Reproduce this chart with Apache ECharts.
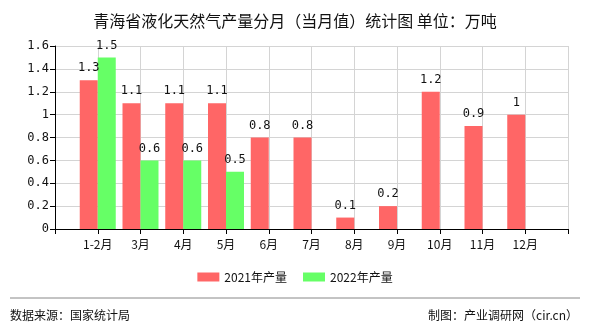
<!DOCTYPE html>
<html>
<head>
<meta charset="utf-8">
<script src="https://cdn.jsdelivr.net/npm/echarts@6/dist/echarts.min.js"></script>
<style>
  html, body { margin: 0; padding: 0; background: #fff; }
  #chart { width: 590px; height: 330px; }
</style>
</head>
<body>
<div id="chart"></div>
<script>
// Monthly LNG output for Qinghai, 10k tonnes
const months = ['1-2月', '3月', '4月', '5月', '6月', '7月', '8月', '9月', '10月', '11月', '12月'];
const output2021 = [1.3, 1.1, 1.1, 1.1, 0.8, 0.8, 0.1, 0.2, 1.2, 0.9, 1];
const output2022 = [1.5, 0.6, 0.6, 0.5, null, null, null, null, null, null, null];
const yTicks = { min: 0, max: 1.6, interval: 0.2 };

// Points on the axis sit on tick lines, with an empty slot at each end
const axisCats = [''].concat(months, ['']);
const pad = arr => [null].concat(arr, [null]);

const numFont = '"DejaVu Sans Mono", "Liberation Mono", monospace';
const cjkFont = '"Noto Sans CJK SC", "Noto Sans", sans-serif';

const chart = echarts.init(document.getElementById('chart'));
chart.setOption({
  animation: false,
  title: {
    text: '青海省液化天然气产量分月（当月值）统计图 单位：万吨',
    left: 'center',
    top: 8,
    textStyle: { fontFamily: cjkFont, fontSize: 16, fontWeight: 'normal', color: '#111' }
  },
  legend: {
    bottom: 42,
    left: 'center',
    itemWidth: 22,
    itemHeight: 9,
    itemGap: 16,
    icon: 'rect',
    textStyle: { fontFamily: cjkFont, fontSize: 12, color: '#111' },
    data: ['2021年产量', '2022年产量']
  },
  grid: { left: 55, right: 22, top: 46, bottom: 101 },
  xAxis: {
    type: 'category',
    data: axisCats,
    boundaryGap: false,
    axisLine: { lineStyle: { color: '#000' } },
    axisTick: { show: true, interval: 0, lineStyle: { color: '#000' } },
    axisLabel: { interval: 0, fontFamily: cjkFont, fontSize: 12, color: '#111', margin: 9 },
    splitLine: { show: true, interval: 0, lineStyle: { color: '#d4d4d4' } }
  },
  yAxis: {
    type: 'value',
    min: yTicks.min,
    max: yTicks.max,
    interval: yTicks.interval,
    axisLine: { show: true, lineStyle: { color: '#000' } },
    axisTick: { show: true, lineStyle: { color: '#000' } },
    axisLabel: { fontFamily: numFont, fontSize: 12, color: '#111', margin: 6 },
    splitLine: { lineStyle: { color: '#d4d4d4' } }
  },
  series: [
    {
      name: '2021年产量',
      type: 'bar',
      data: pad(output2021),
      barWidth: 18,
      barGap: '0%',
      itemStyle: { color: '#ff6666' },
      label: { show: true, position: 'top', distance: 6, fontFamily: numFont, fontSize: 12, color: '#111' }
    },
    {
      name: '2022年产量',
      type: 'bar',
      data: pad(output2022),
      barWidth: 18,
      barGap: '0%',
      itemStyle: { color: '#66ff66' },
      label: { show: true, position: 'top', distance: 6, fontFamily: numFont, fontSize: 12, color: '#111' }
    }
  ],
  graphic: [
    {
      type: 'line',
      shape: { x1: 10, y1: 298, x2: 580, y2: 298 },
      style: { stroke: '#888', lineWidth: 1 }
    },
    {
      type: 'text',
      left: 10,
      top: 309,
      style: { text: '数据来源：国家统计局', font: '12px ' + cjkFont, fill: '#111' }
    },
    {
      type: 'text',
      right: 12,
      top: 309,
      style: { text: '制图：产业调研网（cir.cn）', font: '12px ' + cjkFont, fill: '#111' }
    }
  ]
});
</script>
</body>
</html>
